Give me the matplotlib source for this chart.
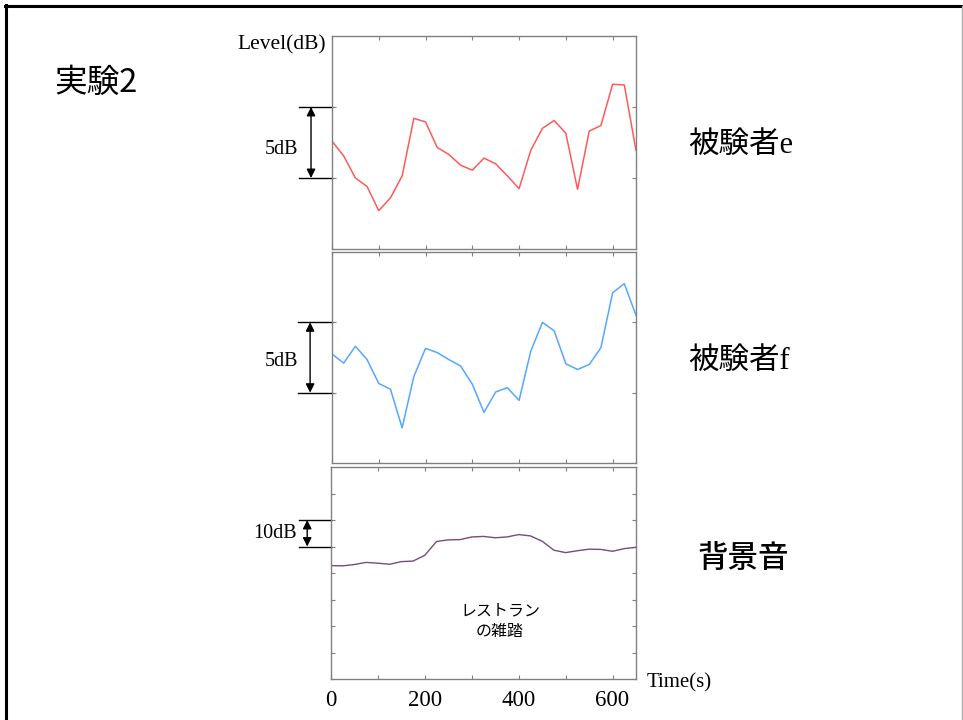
import matplotlib
matplotlib.use("Agg")
import matplotlib.pyplot as plt
from matplotlib.lines import Line2D

plt.rcParams['font.family'] = ['Liberation Serif', 'Noto Sans CJK JP']

# ---- data ----
time_s = [0, 25, 50, 75, 100, 125, 150, 175, 200, 225, 250, 275, 300, 325,
          350, 375, 400, 425, 450, 475, 500, 525, 550, 575, 600, 625, 650]
subject_e = [7.6, 6.55, 5.0, 4.4, 2.7, 3.6, 5.15, 9.2, 8.95, 7.15, 6.65, 5.9,
             5.55, 6.4, 6.0, 5.15, 4.25, 6.95, 8.5, 9.05, 8.15, 4.2, 8.3, 8.7,
             11.6, 11.55, 6.95]
subject_f = [7.75, 7.1, 8.3, 7.35, 5.65, 5.25, 2.5, 6.15, 8.15, 7.85, 7.35, 6.9,
             5.6, 3.6, 5.05, 5.35, 4.45, 7.95, 10.0, 9.4, 7.05, 6.65, 7.0, 8.2,
             12.1, 12.75, 10.5]
background = [42.8, 42.7, 43.2, 44.0, 43.7, 43.3, 44.3, 44.5, 46.7, 51.9, 52.5,
              52.6, 53.6, 53.8, 53.3, 53.6, 54.5, 54.0, 52.0, 48.6, 47.7, 48.4,
              49.0, 48.9, 48.2, 49.2, 49.7]

x_ticks = [0, 100, 200, 300, 400, 500, 600]
x_labels = ["0", "", "200", "", "400", "", "600"]

W, H = 963, 720
fig = plt.figure(figsize=(W / 100, H / 100), dpi=100)


def px(x0, y0, x1, y1):
    return [x0 / W, 1 - y1 / H, (x1 - x0) / W, (y1 - y0) / H]


def fy(y):
    return 1 - y / H


spine_c = '#808080'


def style(ax, yticks, ylim, labels=False):
    ax.set_xlim(0, 650)
    ax.set_ylim(*ylim)
    ax.set_xticks(x_ticks)
    ax.set_yticks(yticks)
    ax.tick_params(direction='in', length=3, width=0.8, color=spine_c,
                   top=True, right=True, left=True, bottom=True)
    if labels:
        ax.set_xticklabels(x_labels, fontsize=16.5, family='Liberation Serif')
        ax.tick_params(axis='x', pad=8)
    else:
        ax.set_xticklabels([])
    ax.set_yticklabels([])
    for s in ax.spines.values():
        s.set_color(spine_c)
        s.set_linewidth(1.0)


def scale_bar(ax, y0, y1, text, xa, xl0, tx, ty):
    tr = ax.get_yaxis_transform()
    for yy in (y0, y1):
        ax.plot([xl0, 0], [yy, yy], color='black', lw=1.0, transform=tr,
                clip_on=False)
    ax.annotate('', xy=(xa, y1), xytext=(xa, y0), xycoords=tr, textcoords=tr,
                arrowprops=dict(arrowstyle='<|-|>', color='black', lw=1.0,
                                mutation_scale=13, shrinkA=0, shrinkB=0),
                annotation_clip=False)
    fig.text(tx / W, fy(ty), text, ha='right', va='center', fontsize=14.5,
             family='Liberation Serif')


ax1 = fig.add_axes(px(332, 36, 636, 249))
ax1.plot(time_s, subject_e, color='#ff5a5a', lw=1.1)
style(ax1, [5, 10], (0, 15))
scale_bar(ax1, 5, 10, '5dB', -0.069, -0.108, 298, 149)

ax2 = fig.add_axes(px(332, 252, 636, 463))
ax2.plot(time_s, subject_f, color='#55a8ff', lw=1.1)
style(ax2, [5, 10], (0, 15))
scale_bar(ax2, 5, 10, '5dB', -0.072, -0.112, 298, 362)

ax3 = fig.add_axes(px(331, 467, 636, 679))
ax3.plot(time_s, background, color='#7a4a7a', lw=1.0)
style(ax3, [10, 20, 30, 40, 50, 60, 70], (0, 80), labels=True)
scale_bar(ax3, 50, 60, '10dB', -0.078, -0.105, 297, 533)

fig.text(500 / W, fy(621), 'レストラン\nの雑踏', ha='center', va='center',
         fontsize=11.5, family='Noto Sans CJK JP', linespacing=1.3,
         multialignment='center')

# labels
fig.text(326 / W, fy(45), 'Level(dB)', ha='right', va='center',
         fontsize=15.5, family='Liberation Serif')
fig.text(647 / W, fy(683), 'Time(s)', ha='left', va='center',
         fontsize=15, family='Liberation Serif')
fig.text(54 / W, fy(83), '実験2', ha='left', va='center', fontsize=23.5,
         family=['Noto Sans CJK JP', 'DejaVu Sans'])
fig.text(688 / W, fy(145), '被験者e', ha='left', va='center', fontsize=22,
         family=['Liberation Serif', 'Noto Sans CJK JP'])
fig.text(688 / W, fy(361), '被験者f', ha='left', va='center', fontsize=22,
         family=['Liberation Serif', 'Noto Sans CJK JP'])
fig.text(697 / W, fy(559), '背景音', ha='left', va='center', fontsize=22,
         family='Noto Sans CJK JP', fontweight='medium')

# slide border
fig.add_artist(Line2D([5 / W, 962 / W], [fy(6), fy(6)], color='black',
                      lw=2.2, transform=fig.transFigure))
fig.add_artist(Line2D([6 / W, 6 / W], [fy(5), 0], color='black', lw=2.2,
                      transform=fig.transFigure))
fig.add_artist(Line2D([962 / W, 962 / W], [fy(6), 0], color='#b0b0b0',
                      lw=1.0, transform=fig.transFigure))

fig.savefig('out.png', dpi=100)
